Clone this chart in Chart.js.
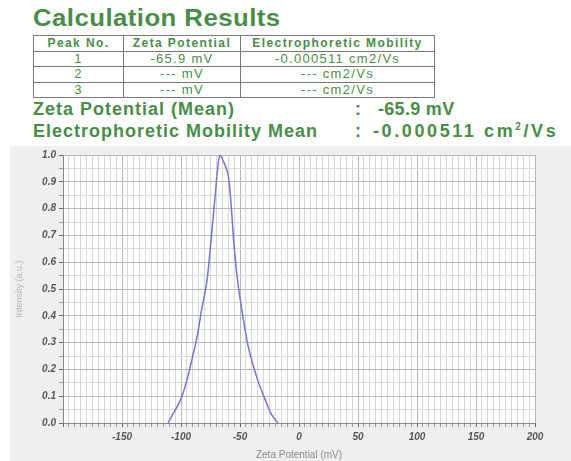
<!DOCTYPE html>
<html>
<head>
<meta charset="utf-8">
<script src="https://cdn.jsdelivr.net/npm/chart.js@4.4.1/dist/chart.umd.min.js"></script>
<style>
  body { margin: 0; width: 571px; height: 461px; background: #fff; position: relative; overflow: hidden;
         font-family: "Liberation Sans", Arial, sans-serif; color: #4a8c4a; }
  #title { position: absolute; left: 33px; top: 5px; font-size: 23px; font-weight: bold; letter-spacing: 0.4px;
           transform: scaleX(1.12); transform-origin: left top; }
  table { position: absolute; left: 33px; top: 35px; width: 402px; border-collapse: collapse; }
  td, th { border: 1px solid #777; padding: 0; height: 14.5px; line-height: 14px; text-align: center; white-space: nowrap; }
  th { font-weight: bold; font-size: 12px; letter-spacing: 1.4px; }
  td { font-size: 13px; letter-spacing: 1.3px; }
  .mean { position: absolute; left: 33px; font-size: 18px; font-weight: bold; letter-spacing: 1px; white-space: nowrap; }
  .colon { position: absolute; left: 355px; font-size: 18px; font-weight: bold; }
  .val { position: absolute; font-size: 18px; font-weight: bold; white-space: nowrap; }
  #panel { position: absolute; left: 10px; top: 146px; width: 561px; height: 315px; background: #efefef; }
</style>
</head>
<body>
<div id="title">Calculation Results</div>
<table>
  <tr><th style="width:89px">Peak No.</th><th style="width:116px">Zeta Potential</th><th>Electrophoretic Mobility</th></tr>
  <tr><td>1</td><td>-65.9 mV</td><td>-0.000511 cm2/Vs</td></tr>
  <tr><td>2</td><td>--- mV</td><td>--- cm2/Vs</td></tr>
  <tr><td>3</td><td>--- mV</td><td>--- cm2/Vs</td></tr>
</table>
<div class="mean" style="top:99px">Zeta Potential (Mean)</div>
<div class="colon" style="top:99px">:</div>
<div class="val" style="top:99px; left:378px; letter-spacing:0.3px">-65.9 mV</div>
<div class="mean" style="top:121px">Electrophoretic Mobility Mean</div>
<div class="colon" style="top:121px">:</div>
<div class="val" style="top:121px; left:373px; letter-spacing:2.6px">-0.000511 cm<sup style="font-size:10px">2</sup>/Vs</div>

<div id="panel"><canvas id="chart" width="561" height="315"></canvas></div>

<script>
// data
const zeta = [-111, -106, -100, -95, -90, -86, -83, -78, -75, -71, -67, -60, -55, -52, -48, -43, -35, -28, -24, -18];
const intensity = [0, 0.04, 0.09, 0.16, 0.25, 0.33, 0.41, 0.53, 0.66, 0.85, 1.0, 0.925, 0.66, 0.53, 0.41, 0.285, 0.16, 0.08, 0.037, 0];
const xLabels = [-150, -100, -50, 0, 50, 100, 150, 200];
const yLabels = [0, 0.1, 0.2, 0.3, 0.4, 0.5, 0.6, 0.7, 0.8, 0.9, 1.0];

const points = zeta.map((z, i) => ({ x: z, y: intensity[i] }));

const plotBg = {
    id: 'plotBg',
    beforeDraw(chart) {
        const a = chart.chartArea;
        const c = chart.ctx;
        c.save();
        c.fillStyle = '#ffffff';
        c.fillRect(a.left, a.top, a.right - a.left, a.bottom - a.top);
        c.restore();
    }
};

function isMajorX(v) { return Math.round(v) % 50 === 0; }
function isMajorY(v) { return Math.round(v * 100) % 10 === 0; }

const tickFont = { family: 'Liberation Sans', size: 10, style: 'italic', weight: 'bold' };

new Chart(document.getElementById('chart'), {
    type: 'line',
    data: {
        datasets: [{
            data: points,
            borderColor: '#7474d6',
            borderWidth: 1.5,
            pointRadius: 0,
            tension: 0.25,
            fill: false
        }]
    },
    options: {
        responsive: false,
        animation: false,
        layout: { padding: { top: 7, right: 36, left: 0, bottom: 0 } },
        plugins: { legend: { display: false }, tooltip: { enabled: false } },
        scales: {
            x: {
                type: 'linear',
                min: -200, max: 200,
                afterFit(s) { s.height = 38; },
                border: { color: '#888' },
                grid: {
                    color: ctx => isMajorX(ctx.tick.value) ? '#b8b8b8' : '#d8d8d8',
                    tickColor: ctx => isMajorX(ctx.tick.value) ? '#666' : '#999',
                    tickLength: 4
                },
                ticks: {
                    stepSize: 5, maxTicksLimit: 100, autoSkip: false, maxRotation: 0, padding: 4,
                    color: '#555', font: tickFont,
                    callback: v => xLabels.includes(Math.round(v)) ? String(Math.round(v)) : ''
                },
                title: { display: true, text: 'Zeta Potential (mV)', color: '#8a8a8a',
                         font: { family: 'Liberation Sans', size: 10 }, padding: { top: 0, bottom: 0 } }
            },
            y: {
                min: 0, max: 1,
                afterFit(s) { s.width = 53; },
                border: { color: '#888' },
                grid: {
                    color: ctx => isMajorY(ctx.tick.value) ? '#b8b8b8' : '#dadada',
                    tickColor: ctx => isMajorY(ctx.tick.value) ? '#666' : '#999',
                    tickLength: 4
                },
                ticks: {
                    stepSize: 0.05, maxTicksLimit: 100, autoSkip: false, padding: 3,
                    color: '#555', font: tickFont,
                    callback: v => yLabels.some(l => Math.abs(l - v) < 1e-6) ? v.toFixed(1) : ''
                },
                title: { display: true, text: 'Intensity (a.u.)', color: '#b5b5b5',
                         font: { family: 'Liberation Sans', size: 9 }, padding: { top: 4, bottom: 0 } }
            }
        }
    },
    plugins: [plotBg]
});
</script>
</body>
</html>
